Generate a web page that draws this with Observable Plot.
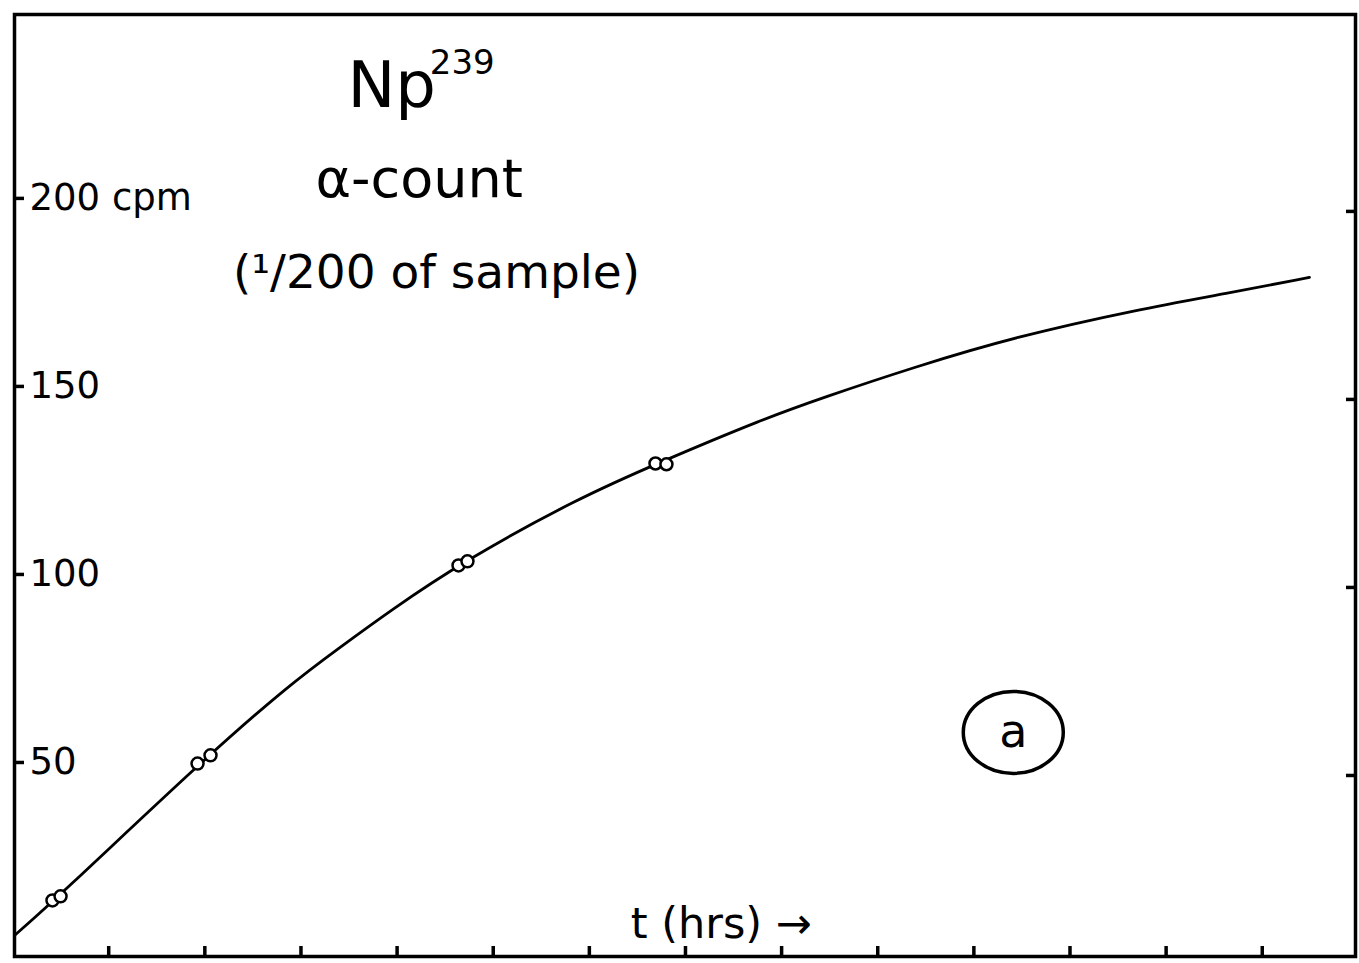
<!DOCTYPE html>
<html>
<head>
<meta charset="utf-8">
<script src="https://cdn.jsdelivr.net/npm/d3@7"></script>
<script src="https://cdn.jsdelivr.net/npm/@observablehq/plot@0.6"></script>
<style>
  html, body { margin: 0; padding: 0; background: #fff; }
  #chart svg { display: block; }
</style>
</head>
<body>
<div id="chart"></div>
<script>
// --- data ---
// smooth drawn curve: time (hrs, tick units) and alpha count (cpm)
const curveT = [0.2, 4.57, 19.86, 28.91, 34.11, 39.31, 46.70, 58.77, 67.40, 78.15, 84.39, 93.75, 104.15, 117.33, 126.28, 134.91];
const curveV = [5.6, 15.4, 52.4, 72.5, 82.3, 92.0, 104.8, 121.8, 131.5, 143.0, 148.7, 156.7, 164.7, 172.2, 176.3, 180.6];
// measured points (pairs of open circles)
const pointT = [4.15, 4.99, 19.24, 20.59, 46.39, 47.32, 66.88, 68.02];
const pointV = [14.9, 16.0, 51.3, 53.5, 104.0, 105.1, 131.1, 130.9];
// axis ticks
const yTicks = [50, 100, 150, 200];
const yTickLabels = ["50", "100", "150", "200 cpm"];
const xTicks = [10, 20, 30, 40, 50, 60, 70, 80, 90, 100, 110, 120, 130];
// annotations (text, position in data units)
const notes = [
  {text: "Np", t: 34.84, v: 225.8, size: 64},
  {text: "239", t: 43.4, v: 234.8, size: 34},
  {text: "α-count", t: 31.5, v: 201.9, size: 54}
];
const subtitle = {text: "(¹/200 of sample)", t: 44.1, v: 177.7};
const xLabel = {text: "t (hrs) →", t: 64.3, v: 5.05};
const panel = {text: "a", t: 104.1, v: 59.6};

const curve = curveT.map((t, i) => ({t, v: curveV[i]}));
const points = pointT.map((t, i) => ({t, v: pointV[i]}));

const ellipse = {
  draw(ctx) {
    const rx = 50, ry = 41, k = 0.5523;
    ctx.moveTo(rx, 0);
    ctx.bezierCurveTo(rx, ry * k, rx * k, ry, 0, ry);
    ctx.bezierCurveTo(-rx * k, ry, -rx, ry * k, -rx, 0);
    ctx.bezierCurveTo(-rx, -ry * k, -rx * k, -ry, 0, -ry);
    ctx.bezierCurveTo(rx * k, -ry, rx, -ry * k, rx, 0);
    ctx.closePath();
  }
};

const font = "'DejaVu Sans', sans-serif";

const chart = Plot.plot({
  width: 1359,
  height: 963,
  marginLeft: 14,
  marginRight: 4,
  marginTop: 14,
  marginBottom: 7,
  style: {background: "#fff", color: "#000", fontFamily: font},
  x: {domain: [0.2, 139.7], axis: null},
  y: {domain: [0, 250.5], axis: null},
  marks: [
    Plot.axisX({anchor: "bottom", ticks: xTicks, tickSize: -10, tickFormat: () => "", label: null, strokeWidth: 3.5}),
    Plot.axisY({anchor: "left", ticks: yTicks, tickSize: -10, tickFormat: () => "", label: null, strokeWidth: 3.5, dy: -6}),
    Plot.axisY({anchor: "right", ticks: yTicks, tickSize: -10, tickFormat: () => "", label: null, strokeWidth: 3.5, dy: 7}),
    Plot.text(yTicks, {
      y: d => d, text: (d, i) => yTickLabels[i], frameAnchor: "left",
      dx: 15, dy: -6, textAnchor: "start", lineAnchor: "middle", fontSize: 37, fill: "#000"
    }),
    Plot.frame({stroke: "#000", strokeWidth: 3.5}),
    Plot.line(curve, {x: "t", y: "v", curve: "basis", stroke: "#000", strokeWidth: 2.8}),
    Plot.dot(points, {x: "t", y: "v", r: 6, stroke: "#000", fill: "#fff", strokeWidth: 2.5}),
    Plot.text(notes, {x: "t", y: "v", text: "text", fontSize: "size", textAnchor: "start", lineAnchor: "bottom", fill: "#000"}),
    Plot.text([subtitle], {x: "t", y: "v", text: "text", fontSize: 47, textAnchor: "middle", lineAnchor: "bottom", fill: "#000"}),
    Plot.text([xLabel], {x: "t", y: "v", text: "text", fontSize: 43, textAnchor: "start", lineAnchor: "bottom", fill: "#000"}),
    Plot.dot([panel], {x: "t", y: "v", symbol: ellipse, r: 10, stroke: "#000", strokeWidth: 3.5, fill: "none"}),
    Plot.text([panel], {x: "t", y: "v", text: "text", fontSize: 46, textAnchor: "middle", lineAnchor: "middle", fill: "#000"})
  ]
});

document.getElementById("chart").appendChild(chart);
</script>
</body>
</html>
